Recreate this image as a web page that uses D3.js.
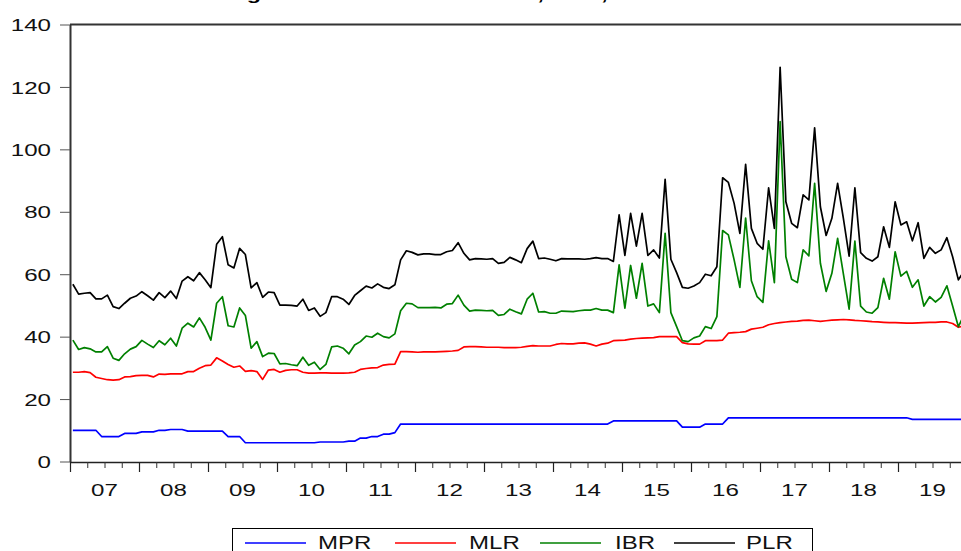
<!DOCTYPE html>
<html>
<head>
<meta charset="utf-8">
<script src="https://cdn.jsdelivr.net/npm/d3@7/dist/d3.min.js"></script>
<style>
  html, body { margin: 0; padding: 0; background: #fff; overflow: hidden; }
  svg { display: block; font-family: Arial, "Liberation Sans", sans-serif; }
</style>
</head>
<body>
<svg id="chart" width="961" height="551"></svg>
<script>
// Monthly observations, 2007M01 .. 2019M12
const startYear = 2007;
const endYear = 2020;
const yearLabels = ["07", "08", "09", "10", "11", "12", "13", "14", "15", "16", "17", "18", "19"];
const yTicks = [0, 20, 40, 60, 80, 100, 120, 140];
const seriesNames = ["MPR", "MLR", "IBR", "PLR"];
const seriesColors = ["#0000ff", "#ff0000", "#008000", "#000000"];
const titleText = "Figure 1: Trends of the MPR, MLR, IBR and PLR";

// Monetary policy rate
const mpr = [
  10, 10, 10, 10, 10, 8, 8, 8, 8, 9, 9, 9,
  9.5, 9.5, 9.5, 10, 10, 10.25, 10.25, 10.25, 9.75, 9.75, 9.75, 9.75,
  9.75, 9.75, 9.75, 8, 8, 8, 6, 6, 6, 6, 6, 6,
  6, 6, 6, 6, 6, 6, 6, 6.25, 6.25, 6.25, 6.25, 6.25,
  6.5, 6.5, 7.5, 7.5, 8, 8, 8.75, 8.75, 9.25, 12, 12, 12,
  12, 12, 12, 12, 12, 12, 12, 12, 12, 12, 12, 12,
  12, 12, 12, 12, 12, 12, 12, 12, 12, 12, 12, 12,
  12, 12, 12, 12, 12, 12, 12, 12, 12, 12, 13, 13,
  13, 13, 13, 13, 13, 13, 13, 13, 13, 13, 11, 11,
  11, 11, 12, 12, 12, 12, 14, 14, 14, 14, 14, 14,
  14, 14, 14, 14, 14, 14, 14, 14, 14, 14, 14, 14,
  14, 14, 14, 14, 14, 14, 14, 14, 14, 14, 14, 14,
  14, 14, 13.5, 13.5, 13.5, 13.5, 13.5, 13.5, 13.5, 13.5, 13.5, 13.5
];

// Maximum lending rate
const mlr = [
  18.6, 18.6, 18.8, 18.5, 17.0, 18.6, 18.2, 18.1, 18.2, 18.1, 18.2, 18.5,
  18.1, 18.1, 17.6, 18.0, 17.9, 17.85, 17.85, 17.85, 19.05, 19.05, 20.15, 20.95,
  21.15, 23.45, 22.45, 23.1, 22.2, 22.6, 22.9, 23.1, 22.8, 20.3, 23.3, 23.5,
  22.6, 23.2, 23.4, 23.4, 22.6, 22.3, 22.3, 22.15, 22.15, 22.05, 22.05, 22.05,
  21.9, 22.1, 22.0, 22.3, 22.0, 22.1, 22.15, 22.35, 21.95, 23.2, 23.2, 23.1,
  23.0, 23.1, 23.1, 23.1, 23.2, 23.3, 23.4, 23.6, 24.7, 24.8, 24.8, 24.7,
  24.6, 24.6, 24.6, 24.5, 24.5, 24.5, 24.6, 24.9, 25.1, 25.0, 25.0, 25.0,
  25.5, 25.8, 25.7, 25.7, 25.9, 26.0, 25.6, 25.0, 25.6, 25.9, 25.7, 25.8,
  25.9, 26.2, 26.4, 26.5, 26.6, 26.7, 27.0, 27.0, 27.0, 27.0, 27.1, 26.7,
  26.6, 26.6, 26.7, 26.7, 26.7, 26.9, 27.1, 27.3, 27.4, 27.6, 28.4, 28.7,
  29.0, 29.8, 30.2, 30.5, 30.7, 30.9, 31.0, 31.2, 31.3, 31.1, 30.9, 31.1,
  31.3, 31.4, 31.5, 31.4, 31.2, 31.1, 31.0, 30.8, 30.7, 30.6, 30.5, 30.5,
  30.4, 30.3, 30.8, 30.9, 31.0, 31.1, 31.1, 31.2, 31.2, 30.7, 29.5, 30.0
];

// Interbank rate
const ibr = [
  10.3, 7.3, 7.7, 7.6, 8.1, 8.5, 10.6, 7.0, 6.2, 7.4, 8.8, 9.3,
  11.2, 10.0, 9.4, 10.7, 9.5, 11.4, 8.9, 14.6, 15.5, 14.3, 16.1, 12.3,
  8.0, 17.5, 20.6, 12.4, 12.9, 18.6, 17.9, 7.2, 9.6, 7.3, 5.4, 5.1,
  2.7, 2.2, 1.6, 1.3, 4.8, 2.5, 3.5, 1.1, 2.7, 8.4, 8.7, 8.0,
  6.1, 8.7, 8.9, 10.4, 9.8, 11.0, 9.1, 8.5, 9.7, 13.1, 15.5, 15.4,
  14.3, 14.2, 14.2, 14.3, 14.0, 15.1, 15.2, 17.7, 13.4, 11.4, 11.7, 11.7,
  11.7, 11.8, 10.2, 10.6, 12.3, 11.5, 10.7, 15.1, 16.8, 10.9, 11.0, 10.5,
  10.0, 10.4, 10.4, 10.3, 10.4, 10.5, 10.9, 12.0, 10.9, 10.6, 9.0, 24.2,
  10.2, 23.6, 12.9, 24.0, 10.2, 10.8, 7.7, 33.1, 7.7, 3.2, 0.6, 0.7,
  2.0, 2.6, 4.5, 3.9, 7.7, 35.1, 31.5, 23.3, 14.4, 36.4, 15.5, 10.1,
  8.0, 26.9, 13.1, 64.4, 20.9, 13.5, 12.3, 22.6, 20.6, 44.0, 18.6, 9.4,
  15.0, 26.1, 14.6, 3.4, 25.4, 4.7, 2.9, 2.7, 4.6, 14.1, 7.5, 22.7,
  15.0, 16.6, 11.5, 13.8, 5.3, 8.2, 6.5, 7.9, 11.6, 5.6, 0.2, 3.5
];

// Prime lending rate
const plr = [
  17.9, 17.7, 17.4, 18.0, 17.0, 17.0, 16.5, 16.5, 16.6, 16.2, 16.3, 16.2,
  15.6, 15.5, 15.2, 15.4, 15.1, 15.1, 15.2, 15.1, 14.9, 14.8, 14.5, 15.2,
  16.8, 18.9, 19.2, 19.5, 18.9, 19.1, 19.5, 19.3, 18.9, 19.0, 19.6, 19.5,
  18.8, 18.7, 19.0, 19.1, 18.6, 17.6, 17.4, 17.0, 16.6, 16.1, 15.8, 15.7,
  15.8, 15.9, 16.3, 16.0, 15.8, 15.8, 15.8, 15.8, 15.7, 16.3, 16.8, 16.5,
  16.9, 17.2, 17.2, 16.9, 17.1, 16.8, 17.0, 16.8, 16.6, 16.4, 16.5, 16.5,
  16.5, 16.6, 16.7, 16.7, 16.6, 16.6, 16.4, 16.2, 16.7, 17.1, 17.2, 17.3,
  16.8, 16.8, 16.8, 16.9, 16.6, 16.3, 16.5, 16.3, 16.5, 16.5, 16.4, 16.0,
  16.9, 16.7, 16.7, 16.0, 16.2, 17.3, 17.5, 17.3, 17.1, 17.3, 17.1, 17.1,
  16.6, 17.1, 16.8, 16.9, 16.0, 16.9, 16.8, 18.1, 17.3, 17.2, 16.8, 17.1,
  17.0, 17.0, 17.4, 17.4, 17.6, 17.9, 17.6, 17.6, 17.9, 17.8, 18.1, 17.9,
  17.6, 17.6, 17.8, 17.0, 17.1, 17.1, 17.2, 16.7, 16.3, 16.5, 16.6, 16.0,
  16.4, 15.9, 14.9, 18.3, 15.3, 15.8, 15.6, 15.2, 15.4, 15.8, 15.0, 14.0
];

const svg = d3.select("#chart");
const W = 961, H = 551;
const plotLeft = 70, plotRight = 967, plotTop = 24.5, plotBottom = 461.5;
const stretch = 1.42; // wide glyph proportions of the axis text

const x = d3.scaleLinear().domain([startYear, endYear]).range([plotLeft, plotRight]);
const y = d3.scaleLinear().domain([0, 140]).range([plotBottom, plotTop]);
const monthPos = i => startYear + (i + 0.5) / 12;

// Stack the four rates, bottom to top
const rows = mpr.map((v, i) => ({ month: i, MPR: v, MLR: mlr[i], IBR: ibr[i], PLR: plr[i] }));
const stacked = d3.stack().keys(seriesNames)(rows);

// Title (sits at the very top edge)
svg.append("text")
  .attr("transform", `translate(226,0) scale(1.38,1)`)
  .attr("font-size", 17)
  .attr("font-weight", "bold")
  .attr("fill", "#000")
  .text(titleText);

// Frame: top border and left axis line
svg.append("line")
  .attr("x1", plotLeft).attr("x2", W + 10)
  .attr("y1", plotTop).attr("y2", plotTop)
  .attr("stroke", "#333").attr("stroke-width", 2);

// Y axis
const yAxis = svg.append("g")
  .attr("transform", `translate(${plotLeft},0)`)
  .call(d3.axisLeft(y).tickValues(yTicks).tickSize(10).tickSizeOuter(0));
yAxis.select(".domain").attr("stroke", "#333").attr("stroke-width", 2);
yAxis.selectAll(".tick line").attr("stroke", "#555").attr("stroke-width", 1);
yAxis.selectAll(".tick text")
  .attr("x", null).attr("dy", "0.36em")
  .attr("transform", `translate(-19,0) scale(${stretch},1)`)
  .attr("font-size", 17)
  .attr("fill", "#111")
  .attr("font-family", "Arial, 'Liberation Sans', sans-serif");

// X axis: quarterly minor ticks and yearly major ticks
const quarterTicks = d3.range(startYear, endYear + 0.001, 0.25);
const yearTicks = d3.range(startYear, endYear + 1, 1);
const xMinor = svg.append("g")
  .attr("transform", `translate(0,${plotBottom + 0.5})`)
  .call(d3.axisBottom(x).tickValues(quarterTicks).tickSize(6).tickSizeOuter(0).tickFormat(""));
xMinor.select(".domain").attr("stroke", "#222").attr("stroke-width", 1.6);
xMinor.selectAll(".tick line").attr("stroke", "#333").attr("stroke-width", 1);
const xMajor = svg.append("g")
  .attr("transform", `translate(0,${plotBottom + 0.5})`)
  .call(d3.axisBottom(x).tickValues(yearTicks).tickSize(10).tickSizeOuter(0).tickFormat(""));
xMajor.select(".domain").remove();
xMajor.selectAll(".tick line").attr("stroke", "#222").attr("stroke-width", 1.2);

// Year labels centred inside each year
svg.append("g").selectAll("text")
  .data(yearLabels)
  .join("text")
  .attr("transform", (d, i) => `translate(${x(startYear + i + 0.5)},496) scale(${stretch},1)`)
  .attr("text-anchor", "middle")
  .attr("font-size", 17)
  .attr("fill", "#111")
  .text(d => d);

// Stacked series lines
const line = d3.line()
  .x(d => x(monthPos(d.data.month)))
  .y(d => y(d[1]));
svg.append("g").selectAll("path")
  .data(stacked)
  .join("path")
  .attr("fill", "none")
  .attr("stroke", (d, i) => seriesColors[i])
  .attr("stroke-width", 1.7)
  .attr("stroke-linejoin", "round")
  .attr("d", line);

// Legend
const legend = svg.append("g");
legend.append("rect")
  .attr("x", 232.5).attr("y", 528.5)
  .attr("width", 580).attr("height", 40)
  .attr("fill", "#fff").attr("stroke", "#000").attr("stroke-width", 1);
const legendLineX = [245, 395, 540, 674];
const legendTextX = [318, 469, 615, 746];
seriesNames.forEach((name, i) => {
  legend.append("line")
    .attr("x1", legendLineX[i]).attr("x2", legendLineX[i] + 61)
    .attr("y1", 543).attr("y2", 543)
    .attr("stroke", seriesColors[i]).attr("stroke-width", 1.6);
  legend.append("text")
    .attr("transform", `translate(${legendTextX[i]},548.5) scale(1.3,1)`)
    .attr("font-size", 18.5)
    .attr("fill", "#111")
    .text(name);
});
</script>
</body>
</html>
